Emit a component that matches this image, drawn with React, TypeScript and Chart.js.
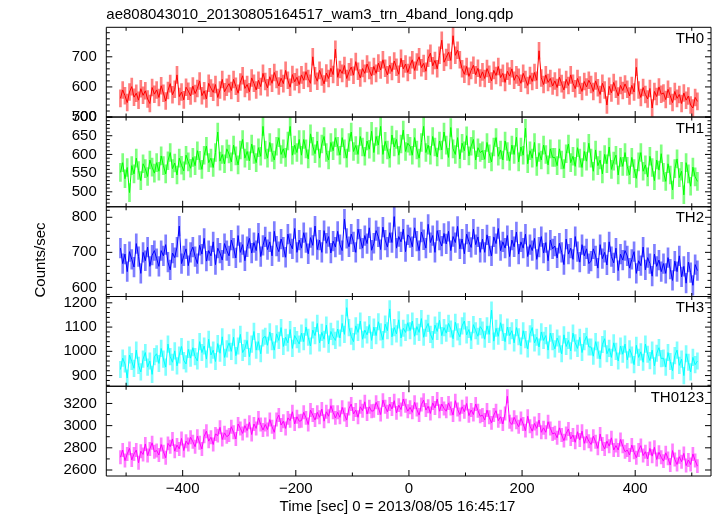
import React, { useEffect, useRef } from "react";
import { Chart, registerables } from "chart.js";

Chart.register(...registerables);

const FONT = "'Liberation Sans', Arial, Helvetica, sans-serif";
const TITLE = "ae808043010_20130805164517_wam3_trn_4band_long.qdp";
const X_TITLE = "Time [sec] 0 = 2013/08/05 16:45:17";
const Y_TITLE = "Counts/sec";

// time bins (s): first bin centre and bin width
const BIN_START = -510;
const BIN_SIZE = 4;

const PANEL_NAMES = ["TH0", "TH1", "TH2", "TH3", "TH0123"];

const TH0 = [
  562, 590, 571, 548, 583, 601, 566, 579, 556, 594, 572, 587, 560, 545, 598, 576,
  590, 565, 604, 579, 553, 588, 611, 574, 592, 640, 568, 583, 557, 599, 586, 570,
  603, 578, 595, 620, 571, 587, 560, 612, 596, 582, 608, 565, 590, 625, 584, 599,
  611, 588, 625, 602, 579, 616, 637, 595, 608, 584, 630, 612, 590, 622, 601, 645,
  618, 597, 634, 612, 648, 625, 603, 629, 611, 655, 622, 599, 641, 617, 632, 608,
  640, 622, 651, 628, 612, 700, 637, 619, 655, 633, 610, 646, 628, 662, 641, 725,
  632, 658, 645, 671, 628, 650, 666, 639, 684, 652, 630, 661, 645, 676, 655, 637,
  668, 645, 679, 656, 690, 662, 640, 673, 651, 686, 665, 642, 695, 660, 676, 648,
  672, 690, 655, 683, 700, 664, 678, 652, 695, 712, 670, 688, 660, 705, 755, 682,
  698, 715, 688, 770, 705, 722, 690, 660, 642, 668, 635, 655, 672, 640, 662, 630,
  650, 628, 661, 642, 620, 655, 638, 668, 631, 645, 615, 652, 636, 660, 622, 640,
  632, 612, 645, 625, 605, 638, 618, 648, 622, 720, 630, 608, 640, 615, 628, 603,
  620, 598, 632, 611, 590, 625, 605, 640, 612, 594, 628, 606, 585, 618, 600, 622,
  608, 585, 620, 597, 575, 612, 590, 540, 602, 580, 615, 592, 570, 605, 588, 610,
  592, 570, 605, 583, 665, 590, 565, 598, 575, 560, 595, 530, 585, 568, 600, 576,
  580, 558, 592, 570, 548, 585, 562, 575, 545, 580, 556, 570, 540, 530, 565, 552,
];

const TH1 = [
  552, 578, 535, 565, 498, 570, 548, 590, 557, 530, 575, 562, 541, 585, 566, 550,
  578, 555, 596, 570, 548, 583, 605, 562, 577, 545, 590, 571, 556, 598, 580, 563,
  592, 570, 610, 584, 560, 598, 622, 578, 590, 565, 605, 660, 582, 600, 575, 615,
  601, 580, 625, 596, 572, 612, 640, 590, 608, 583, 628, 600, 578, 618, 595, 675,
  612, 590, 632, 605, 585, 622, 645, 600, 615, 592, 636, 675, 598, 625, 605, 640,
  598, 640, 615, 588, 655, 622, 602, 636, 590, 628, 648, 605, 585, 632, 610, 645,
  622, 598, 645, 615, 590, 632, 660, 608, 624, 600, 648, 620, 595, 636, 614, 662,
  605, 648, 625, 675, 600, 635, 612, 590, 652, 620, 640, 598, 628, 665, 608, 630,
  622, 598, 645, 612, 590, 632, 675, 605, 625, 598, 648, 620, 593, 636, 612, 660,
  625, 592, 672, 615, 600, 645, 588, 630, 610, 650, 596, 622, 640, 585, 618, 605,
  610, 587, 632, 602, 580, 620, 645, 595, 612, 585, 636, 608, 582, 625, 600, 646,
  580, 620, 598, 670, 575, 610, 590, 632, 568, 605, 585, 625, 600, 572, 615, 592,
  592, 570, 615, 585, 562, 602, 628, 578, 595, 568, 618, 590, 565, 608, 582, 630,
  590, 555, 612, 570, 585, 548, 600, 575, 620, 560, 582, 598, 545, 592, 568, 605,
  568, 545, 592, 562, 536, 580, 605, 555, 572, 540, 595, 565, 530, 585, 558, 602,
  552, 528, 575, 545, 505, 562, 588, 538, 555, 492, 578, 548, 515, 566, 540, 528,
];

const TH2 = [
  712, 668, 695, 645, 702, 680, 658, 725, 688, 640, 700, 676, 715, 660, 692, 705,
  682, 660, 705, 690, 722, 672, 650, 698, 685, 715, 775, 668, 690, 710, 662, 700,
  715, 688, 668, 720, 695, 740, 675, 705, 690, 730, 665, 712, 698, 678, 725, 705,
  690, 735, 712, 684, 748, 700, 722, 676, 716, 740, 698, 728, 705, 755, 688, 720,
  744, 708, 730, 690, 760, 718, 702, 738, 715, 686, 752, 725, 710, 768, 700, 735,
  712, 756, 728, 696, 742, 720, 775, 708, 735, 700, 762, 726, 745, 698, 732, 715,
  760, 722, 705, 795, 740, 716, 752, 730, 700, 766, 738, 712, 748, 725, 770, 706,
  726, 762, 744, 708, 772, 735, 715, 756, 728, 802, 712, 745, 730, 766, 702, 750,
  742, 716, 770, 732, 705, 758, 736, 712, 780, 728, 748, 700, 762, 735, 718, 754,
  724, 760, 705, 745, 728, 774, 710, 738, 696, 752, 730, 714, 766, 722, 744, 700,
  738, 700, 750, 718, 690, 744, 725, 768, 705, 730, 712, 748, 688, 735, 716, 758,
  695, 730, 712, 752, 688, 722, 705, 740, 680, 715, 745, 698, 728, 676, 735, 710,
  718, 684, 726, 700, 665, 738, 695, 712, 680, 745, 702, 672, 722, 690, 710, 668,
  675, 710, 690, 655, 722, 682, 700, 664, 730, 688, 670, 712, 648, 695, 678, 705,
  690, 655, 680, 702, 640, 676, 662, 715, 650, 685, 668, 632, 695, 660, 678, 645,
  668, 640, 685, 652, 620, 675, 645, 690, 630, 660, 612, 672, 642, 606, 665, 648,
];

const TH3 = [
  925, 972, 948, 890, 985, 958, 930, 1005, 942, 915, 968, 995, 935, 960, 905, 978,
  990, 950, 1012, 968, 935, 1030, 978, 955, 1002, 940, 985, 1020, 962, 948, 1008, 972,
  1015, 978, 960, 1040, 995, 1022, 968, 1050, 985, 1005, 958, 1032, 992, 1060, 975, 1010,
  1035, 1000, 1058, 982, 1022, 1070, 995, 1012, 1045, 978, 1030, 1082, 1005, 1040, 990, 1055,
  1062, 1025, 1080, 1040, 1005, 1072, 1045, 1098, 1020, 1058, 1035, 1090, 1012, 1065, 1048, 1030,
  1075, 1040, 1100, 1058, 1022, 1088, 1065, 1115, 1035, 1078, 1050, 1108, 1030, 1082, 1060, 1045,
  1092, 1055, 1115, 1070, 1180, 1098, 1062, 1040, 1105, 1078, 1125, 1050, 1088, 1068, 1110, 1045,
  1100, 1065, 1122, 1080, 1048, 1112, 1085, 1175, 1060, 1098, 1072, 1130, 1055, 1095, 1078, 1118,
  1085, 1125, 1062, 1102, 1078, 1135, 1058, 1095, 1115, 1070, 1048, 1108, 1082, 1128, 1065, 1098,
  1075, 1115, 1092, 1052, 1120, 1080, 1060, 1105, 1125, 1068, 1090, 1045, 1110, 1085, 1062, 1102,
  1088, 1050, 1105, 1070, 1170, 1042, 1095, 1062, 1118, 1078, 1040, 1100, 1065, 1085, 1035, 1098,
  1060, 1022, 1085, 1048, 1010, 1072, 1098, 1035, 1058, 1018, 1080, 1045, 1065, 1005, 1075, 1040,
  1010, 1055, 1030, 990, 1068, 1020, 1045, 1002, 1075, 1035, 1012, 1058, 995, 1040, 1062, 1018,
  1018, 980, 1040, 1005, 968, 1028, 1052, 990, 1012, 975, 1035, 1000, 960, 1022, 988, 1030,
  965, 1010, 985, 945, 1025, 975, 998, 955, 1030, 988, 962, 1005, 940, 992, 1015, 970,
  972, 935, 995, 958, 920, 982, 1005, 942, 968, 900, 990, 955, 915, 975, 945, 960,
];

const TH0123 = [
  2715, 2780, 2685, 2745, 2795, 2690, 2745, 2780, 2665, 2770, 2740, 2835, 2730, 2790, 2845, 2765,
  2775, 2735, 2830, 2765, 2710, 2840, 2810, 2880, 2770, 2825, 2790, 2885, 2775, 2860, 2830, 2895,
  2855, 2810, 2905, 2845, 2790, 2905, 2950, 2860, 2895, 2830, 2925, 2910, 2985, 2875, 2935, 2900,
  2915, 2990, 2940, 2880, 3015, 2975, 2930, 3000, 2955, 3030, 2920, 3015, 2975, 3070, 3010, 2960,
  3010, 2965, 3055, 2990, 2940, 3055, 3095, 3005, 3040, 2975, 3070, 3045, 3125, 3015, 3080, 3040,
  3045, 3120, 3070, 3010, 3140, 3095, 3050, 3120, 3075, 3150, 3040, 3125, 3085, 3180, 3120, 3070,
  3120, 3075, 3165, 3100, 3050, 3155, 3195, 3105, 3140, 3075, 3170, 3135, 3215, 3105, 3170, 3130,
  3135, 3210, 3160, 3100, 3230, 3170, 3125, 3195, 3150, 3225, 3115, 3185, 3145, 3240, 3180, 3130,
  3165, 3120, 3210, 3145, 3095, 3190, 3230, 3140, 3175, 3110, 3205, 3160, 3240, 3130, 3195, 3155,
  3130, 3205, 3155, 3095, 3225, 3145, 3100, 3170, 3125, 3200, 3090, 3140, 3100, 3195, 3135, 3085,
  3095, 3050, 3140, 3075, 3025, 3095, 3135, 3045, 3080, 3015, 3110, 3265, 3035, 3010, 3075, 3030,
  2990, 3065, 3015, 2955, 3085, 2995, 2950, 3020, 2975, 3050, 2940, 2980, 2940, 3035, 2975, 2925,
  2935, 2890, 2980, 2915, 2865, 2930, 2970, 2880, 2915, 2850, 2945, 2870, 2950, 2840, 2905, 2860,
  2830, 2905, 2855, 2795, 2925, 2835, 2790, 2860, 2815, 2890, 2780, 2820, 2780, 2875, 2815, 2765,
  2780, 2735, 2825, 2760, 2710, 2780, 2820, 2730, 2765, 2700, 2795, 2725, 2805, 2695, 2760, 2715,
  2680, 2755, 2705, 2645, 2775, 2695, 2650, 2720, 2675, 2750, 2640, 2690, 2650, 2745, 2685, 2635,
];

const SERIES = [TH0, TH1, TH2, TH3, TH0123];
const ERRORS = [28, 24, 28, 34, 60];

const Y_RANGES = [
  [500, 798],
  [460, 700],
  [574, 830],
  [856, 1226],
  [2546, 3355],
];
const Y_TICKS = [
  [500, 600, 700],
  [500, 550, 600, 650, 700],
  [600, 700, 800],
  [900, 1000, 1100, 1200],
  [2600, 2800, 3000, 3200],
];
const Y_MINOR_STEPS = [20, 10, 20, 20, 100];

const X_RANGE = [-535, 534];
const X_TICKS = [-400, -200, 0, 200, 400];
const X_MINOR_TICKS = [-500, -300, -100, 100, 300, 500];

const COLORS = ["#ff0000", "#00ff00", "#0000ff", "#00ffff", "#ff00ff"];
const ERR_COLORS = [
  "rgba(255,0,0,0.5)",
  "rgba(0,255,0,0.5)",
  "rgba(0,0,255,0.5)",
  "rgba(0,255,255,0.5)",
  "rgba(255,0,255,0.5)",
];

const qdpFrame = {
  id: "qdpFrame",
  afterDatasetsDraw(chart: any) {
    const { ctx, chartArea, scales } = chart;
    const xs = scales.x;
    const left = chartArea.left;
    const right = chartArea.right;
    ctx.save();
    ctx.strokeStyle = "#000";
    ctx.lineWidth = 1;
    PANEL_NAMES.forEach((name, i) => {
      const ys = scales["y" + i];
      const top = ys.top;
      const bottom = ys.bottom;
      ctx.beginPath();
      ctx.moveTo(left, top);
      ctx.lineTo(right, top);
      ctx.moveTo(left, bottom);
      ctx.lineTo(right, bottom);
      ctx.moveTo(left, top);
      ctx.lineTo(left, bottom);
      ctx.moveTo(right, top);
      ctx.lineTo(right, bottom);
      Y_TICKS[i].forEach((v) => {
        const p = ys.getPixelForValue(v);
        ctx.moveTo(left, p);
        ctx.lineTo(left + 6, p);
        ctx.moveTo(right, p);
        ctx.lineTo(right - 6, p);
      });
      const step = Y_MINOR_STEPS[i];
      for (let v = Math.ceil(ys.min / step) * step; v <= ys.max; v += step) {
        if (Y_TICKS[i].includes(v)) continue;
        const p = ys.getPixelForValue(v);
        ctx.moveTo(left, p);
        ctx.lineTo(left + 3.5, p);
        ctx.moveTo(right, p);
        ctx.lineTo(right - 3.5, p);
      }
      X_TICKS.forEach((v) => {
        const p = xs.getPixelForValue(v);
        ctx.moveTo(p, top);
        ctx.lineTo(p, top + 6);
        ctx.moveTo(p, bottom);
        ctx.lineTo(p, bottom - 6);
      });
      X_MINOR_TICKS.forEach((v) => {
        const p = xs.getPixelForValue(v);
        if (p < left || p > right) return;
        ctx.moveTo(p, top);
        ctx.lineTo(p, top + 3.5);
        ctx.moveTo(p, bottom);
        ctx.lineTo(p, bottom - 3.5);
      });
      ctx.stroke();

      ctx.fillStyle = "#000";
      ctx.font = "15px " + FONT;
      ctx.textAlign = "right";
      ctx.textBaseline = "alphabetic";
      ctx.fillText(name, right - 7, top + 15.5);
    });

    ctx.fillStyle = "#000";
    ctx.font = "15px " + FONT;
    ctx.textAlign = "center";
    ctx.textBaseline = "middle";
    ctx.fillText(X_TITLE, 397.5, 507);
    ctx.translate(41, 260);
    ctx.rotate(-Math.PI / 2);
    ctx.fillText(Y_TITLE, 0, 0);
    ctx.restore();
  },
};

export default function App() {
  const ref = useRef<HTMLCanvasElement | null>(null);

  useEffect(() => {
    if (!ref.current) return;
    Chart.defaults.font.family = FONT;
    Chart.defaults.color = "#000";

    const datasets: any[] = [];
    SERIES.forEach((vals, i) => {
      const times = vals.map((_, k) => BIN_START + BIN_SIZE * k);
      datasets.push({
        type: "line",
        label: PANEL_NAMES[i],
        data: vals.map((y, k) => ({ x: times[k], y })),
        xAxisID: "x",
        yAxisID: "y" + i,
        borderColor: COLORS[i],
        borderWidth: 1,
        pointRadius: 0,
        tension: 0,
        fill: false,
        order: 0,
      });
      datasets.push({
        type: "bar",
        label: PANEL_NAMES[i] + " err",
        data: vals.map((y, k) => ({ x: times[k], y: [y - ERRORS[i], y + ERRORS[i]] })),
        xAxisID: "x",
        yAxisID: "y" + i,
        backgroundColor: ERR_COLORS[i],
        borderWidth: 0,
        barThickness: 2,
        grouped: false,
        order: 1,
      });
    });

    const scales: any = {
      x: {
        type: "linear",
        position: "bottom",
        min: X_RANGE[0],
        max: X_RANGE[1],
        offset: false,
        grid: { display: false, drawTicks: false },
        border: { display: false },
        afterBuildTicks: (s: any) => {
          s.ticks = X_TICKS.map((v) => ({ value: v }));
        },
        afterFit: (s: any) => {
          s.height = 40;
        },
        ticks: {
          padding: 4,
          autoSkip: false,
          maxRotation: 0,
          color: "#000",
          font: { size: 15 },
          callback: (v: any) => String(v).replace("-", "\u2212"),
        },
      },
    };
    PANEL_NAMES.forEach((_, i) => {
      scales["y" + i] = {
        type: "linear",
        position: "left",
        stack: "panels",
        stackWeight: 1,
        weight: 10 - i,
        min: Y_RANGES[i][0],
        max: Y_RANGES[i][1],
        offset: false,
        grid: { display: false, drawTicks: false },
        border: { display: false },
        afterBuildTicks: (s: any) => {
          s.ticks = Y_TICKS[i].map((v) => ({ value: v }));
        },
        afterFit: (s: any) => {
          s.width = 106.3;
        },
        ticks: {
          padding: 9.5,
          autoSkip: false,
          color: "#000",
          font: { size: 15 },
          callback: (v: any) => String(v),
        },
      };
    });

    const chart = new Chart(ref.current, {
      type: "line",
      data: { datasets },
      options: {
        animation: false,
        responsive: false,
        devicePixelRatio: 1,
        layout: { padding: { left: 0, right: 6, top: 0, bottom: 0 } },
        plugins: {
          legend: { display: false },
          tooltip: { enabled: false },
          title: {
            display: true,
            text: TITLE,
            align: "start",
            fullSize: false,
            color: "#000",
            font: { size: 15, weight: "normal", family: FONT },
            padding: { top: 6, bottom: 3.3 },
          },
        },
        scales,
      } as any,
      plugins: [qdpFrame],
    });
    return () => chart.destroy();
  }, []);

  return (
    <div style={{ position: "absolute", left: 0, top: 0, width: 717, height: 516, background: "#fff" }}>
      <canvas ref={ref} width={717} height={516} style={{ display: "block" }} />
    </div>
  );
}
